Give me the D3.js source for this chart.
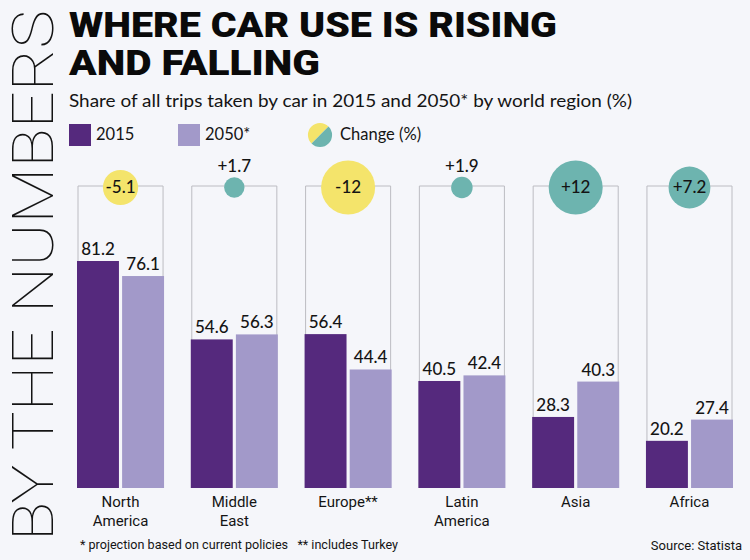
<!DOCTYPE html>
<html>
<head>
<meta charset="utf-8">
<script src="https://cdn.jsdelivr.net/npm/d3@7"></script>
<style>
  html, body { margin: 0; padding: 0; background: #f5f6fa; }
  svg { display: block; }
</style>
</head>
<body>
<svg id="chart" width="750" height="560"></svg>
<script>
// ---- data ----
const regions = ["North America", "Middle East", "Europe**", "Latin America", "Asia", "Africa"];
const regionLines = [["North", "America"], ["Middle", "East"], ["Europe**"], ["Latin", "America"], ["Asia"], ["Africa"]];
const years = ["2015", "2050*"];
const values2015 = [81.2, 54.6, 56.4, 40.5, 28.3, 20.2];
const values2050 = [76.1, 56.3, 44.4, 42.4, 40.3, 27.4];
const changes = [-5.1, 1.7, -12, 1.9, 12, 7.2];
const changeLabels = ["-5.1", "+1.7", "-12", "+1.9", "+12", "+7.2"];

const colors = { "2015": "#55297d", "2050*": "#a299c9" };
const yellow = "#f4e46b", teal = "#6db4af";
const ink = "#141414";

const svg = d3.select("#chart");
svg.append("rect").attr("width", 750).attr("height", 560).attr("fill", "#f5f6fa");

// ---- left vertical banner ----
svg.append("text")
  .attr("transform", "translate(53,541) rotate(-90)")
  .attr("font-family", "Roboto, Lato, 'DejaVu Sans', sans-serif")
  .attr("font-weight", 100)
  .attr("font-size", 57)
  .attr("fill", ink)
  .attr("textLength", 531)
  .attr("lengthAdjust", "spacingAndGlyphs")
  .text("BY THE NUMBERS");

// ---- titles ----
const title = svg.append("g")
  .attr("font-family", "Roboto, 'DejaVu Sans', sans-serif")
  .attr("font-weight", 900)
  .attr("font-size", 35)
  .attr("fill", "#0a0a0a");
title.append("text").attr("x", 69).attr("y", 37)
  .attr("textLength", 488).attr("lengthAdjust", "spacingAndGlyphs")
  .text("WHERE CAR USE IS RISING");
title.append("text").attr("x", 69).attr("y", 75)
  .attr("textLength", 251).attr("lengthAdjust", "spacingAndGlyphs")
  .text("AND FALLING");

svg.append("text").attr("x", 69).attr("y", 107)
  .attr("font-family", "Lato, 'Open Sans', sans-serif")
  .attr("font-size", 18).attr("fill", ink)
  .attr("textLength", 563).attr("lengthAdjust", "spacingAndGlyphs")
  .text("Share of all trips taken by car in 2015 and 2050* by world region (%)");

// ---- legend ----
const legend = svg.append("g")
  .attr("font-family", "Lato, 'Open Sans', sans-serif")
  .attr("font-size", 16.5).attr("fill", ink);
const legendX = { "2015": 69, "2050*": 178 };
years.forEach(yr => {
  legend.append("rect").attr("x", legendX[yr]).attr("y", 124)
    .attr("width", 22).attr("height", 22).attr("fill", colors[yr]);
  legend.append("text").attr("x", legendX[yr] + 27).attr("y", 140).text(yr);
});
const arc = d3.arc().innerRadius(0).outerRadius(12);
const lg = legend.append("g").attr("transform", "translate(320,135)");
lg.append("path").attr("d", arc({ startAngle: Math.PI * 1.25, endAngle: Math.PI * 2.25 })).attr("fill", yellow);
lg.append("path").attr("d", arc({ startAngle: Math.PI * 0.25, endAngle: Math.PI * 1.25 })).attr("fill", teal);
legend.append("text").attr("x", 340).attr("y", 140).text("Change (%)");

// ---- scales ----
const x = d3.scaleBand().domain(regions).range([77, 733]).paddingInner(0.235).paddingOuter(0);
const xs = d3.scaleBand().domain(years).range([0, x.bandwidth()]).paddingInner(0.07);
const y = d3.scaleLinear().domain([4.2, 81.2]).range([488, 261]);
const r = d3.scaleSqrt().domain([0, 12]).range([0, 27]);
const frameTop = 186;

const groups = svg.append("g").selectAll("g").data(regions).join("g")
  .attr("transform", d => `translate(${x(d)},0)`);

// frames
groups.append("path")
  .attr("d", `M1,${y.range()[0]}V${frameTop}H${x.bandwidth() - 1}V${y.range()[0]}`)
  .attr("fill", "none").attr("stroke", "#bcbcc2").attr("stroke-width", 1);

// bars
const series = { "2015": values2015, "2050*": values2050 };
years.forEach(yr => {
  groups.append("rect")
    .attr("x", xs(yr))
    .attr("width", xs.bandwidth())
    .attr("y", (d, i) => y(series[yr][i]))
    .attr("height", (d, i) => y.range()[0] - y(series[yr][i]))
    .attr("fill", colors[yr]);
  groups.append("text")
    .attr("x", xs(yr) + xs.bandwidth() / 2)
    .attr("y", (d, i) => y(series[yr][i]) - 6)
    .attr("text-anchor", "middle")
    .attr("font-family", "Lato, 'Open Sans', sans-serif")
    .attr("font-weight", 500)
    .attr("font-size", 17).attr("fill", ink)
    .text((d, i) => series[yr][i].toFixed(1));
});

// change bubbles
const cy = 187.5;
groups.append("circle")
  .attr("cx", x.bandwidth() / 2)
  .attr("cy", cy)
  .attr("r", (d, i) => r(Math.abs(changes[i])))
  .attr("fill", (d, i) => changes[i] < 0 ? yellow : teal);
groups.append("text")
  .attr("x", x.bandwidth() / 2)
  .attr("y", (d, i) => {
    const rr = r(Math.abs(changes[i]));
    return rr < 14 ? cy - rr - 5 : cy + 5.5;
  })
  .attr("text-anchor", "middle")
  .attr("font-family", "Lato, 'Open Sans', sans-serif")
  .attr("font-weight", 500)
  .attr("font-size", 17).attr("fill", ink)
  .text((d, i) => changeLabels[i]);

// category labels
groups.append("text")
  .attr("text-anchor", "middle")
  .attr("font-family", "Roboto, 'Open Sans', sans-serif")
  .attr("font-weight", 400)
  .attr("font-size", 15).attr("fill", ink)
  .selectAll("tspan").data((d, i) => regionLines[i]).join("tspan")
  .attr("x", x.bandwidth() / 2)
  .attr("y", (d, j) => 507 + j * 18.5)
  .text(d => d);

// footnotes
const foot = svg.append("g")
  .attr("font-family", "'Liberation Sans Narrow', Roboto, sans-serif")
  .attr("font-size", 13).attr("fill", ink);
foot.append("text").attr("x", 80).attr("y", 549)
  .style("white-space", "pre")
  .attr("textLength", 318).attr("lengthAdjust", "spacingAndGlyphs")
  .text("* projection based on current policies   ** includes Turkey");
foot.append("text").attr("x", 742).attr("y", 550).attr("text-anchor", "end")
  .text("Source: Statista");
</script>
</body>
</html>
